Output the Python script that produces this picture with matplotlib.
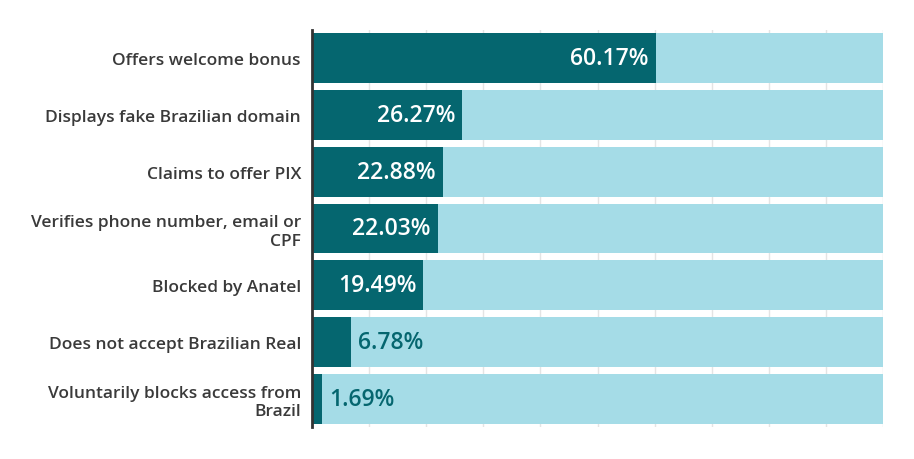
import matplotlib
matplotlib.use("Agg")
import matplotlib.pyplot as plt

# data
categories = [
    "Offers welcome bonus",
    "Displays fake Brazilian domain",
    "Claims to offer PIX",
    "Verifies phone number, email or\nCPF",
    "Blocked by Anatel",
    "Does not accept Brazilian Real",
    "Voluntarily blocks access from\nBrazil",
]
values = [60.17, 26.27, 22.88, 22.03, 19.49, 6.78, 1.69]
total = 100

dark = "#05666f"
light = "#a5dce7"

plt.rcParams['font.family'] = ['Open Sans', 'DejaVu Sans']

fig = plt.figure(figsize=(9.14, 4.6), dpi=100)
ax = fig.add_axes([312 / 914, 1 - 428 / 460, (883 - 312) / 914, (428 - 31) / 460])

y = list(range(len(categories)))
ax.barh(y, [total] * len(values), height=0.88, color=light, zorder=2)
ax.barh(y, values, height=0.88, color=dark, zorder=3)

for yi, v in zip(y, values):
    txt = f"{v:.2f}%"
    if v > 15:
        ax.text(v - 1.2, yi, txt, ha='right', va='center', color='white',
                fontsize=16.5, fontweight='semibold', zorder=4)
    else:
        ax.text(v + 1.3, yi, txt, ha='left', va='center', color=dark,
                fontsize=16.5, fontweight='semibold', zorder=4)

ax.set_xlim(0, 100)
ax.set_ylim(len(categories) - 0.5, -0.5)
ax.set_yticks(y)
ax.set_yticklabels(categories, fontsize=12.5, color='#3a3a3a', fontweight='semibold')
ax.tick_params(axis='y', length=0, pad=8)
ax.set_xticks(range(0, 101, 10))
ax.set_xticklabels([])
ax.tick_params(axis='x', length=0)
ax.grid(axis='x', color='#e4e4e4', linewidth=1, zorder=0)
for lbl in ax.get_yticklabels():
    lbl.set_multialignment('right')

for s in ['top', 'right', 'bottom']:
    ax.spines[s].set_visible(False)
ax.spines['left'].set_color('#333333')
ax.spines['left'].set_linewidth(2)
ax.spines['left'].set_zorder(5)

fig.savefig("out.png", dpi=100)
